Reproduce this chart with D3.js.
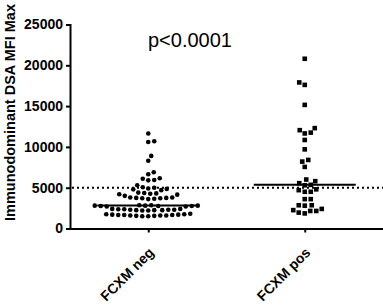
<!DOCTYPE html>
<html>
<head>
<meta charset="utf-8">
<script src="https://cdn.jsdelivr.net/npm/d3@7"></script>
<style>
  body { margin: 0; background: #fff; }
  svg { font-family: Arial, "Liberation Sans", sans-serif; }
</style>
</head>
<body>
<script>
var categories = ["FCXM neg", "FCXM pos"];

var negValues = [
  11650, 10700, 10600, 8900, 8300, 6900, 6650,
  6150, 5950, 5900, 6100,
  5300, 5000, 4900, 4800, 4700, 4850, 5050,
  4400, 4250, 4300, 4200, 4150, 4350, 4000,
  3800, 3750, 3700, 3650, 3700, 3800, 3600, 3750,
  2850, 2800, 2750, 2700, 2800, 2850, 2750, 2700, 2800, 2750,
  2400, 2350, 2300, 2250, 2200, 2300, 2350, 2250, 2200, 2300, 2400, 2250,
  1800, 1750, 1700, 1650, 1600, 1550, 1500, 1600, 1650, 1700, 1550, 1600, 1750, 1500, 1650
];

var posValues = [
  20800, 17900, 17600, 15150, 12300, 12050, 11750, 11650, 10850, 9700,
  8400, 8200, 7550, 6000, 5800, 5550, 5350, 5300, 4800, 4500, 4500, 4700,
  3600, 3600, 2850, 2800, 2850, 2250, 2150, 1850, 1950, 2150, 2400
];

var yTicks = [0, 5000, 10000, 15000, 20000, 25000];
var threshold = 5000;
var pLabel = "p<0.0001";
var yLabel = "Immunodominant DSA MFI Max";

var width = 383, height = 306;
var plotLeft = 70, plotTop = 24.5, plotBottom = 228.5;

var svg = d3.select("body").append("svg")
    .attr("width", width)
    .attr("height", height);

var x = d3.scalePoint().domain(categories).range([plotLeft, width]).padding(0.5);
var y = d3.scaleLinear().domain([0, 25000]).range([plotBottom, plotTop]);

// simple beeswarm: push each point sideways until it no longer overlaps
function swarm(values, cx, d) {
  var placed = [];
  values.slice().sort(d3.ascending).forEach(function (v, i) {
    var py = y(v), k = 0, px = cx;
    while (k < 200) {
      var cands = i % 2 ? [cx - k, cx + k] : [cx + k, cx - k];
      var ok = cands.filter(function (c) {
        return placed.every(function (p) {
          return (p.x - c) * (p.x - c) + (p.y - py) * (p.y - py) >= d * d;
        });
      });
      if (ok.length) { px = ok[0]; break; }
      k += 0.5;
    }
    placed.push({ x: px, y: py, v: v });
  });
  return placed;
}

var negPts = swarm(negValues, x("FCXM neg"), 5.6);
var posPts = swarm(posValues, x("FCXM pos"), 5.8);

// threshold line
svg.append("line")
    .attr("x1", plotLeft + 2).attr("x2", width)
    .attr("y1", y(threshold)).attr("y2", y(threshold))
    .attr("stroke", "#000")
    .attr("stroke-width", 2)
    .attr("stroke-dasharray", "2,3");

svg.append("g").selectAll("circle")
    .data(negPts)
  .enter().append("circle")
    .attr("cx", function (d) { return d.x; })
    .attr("cy", function (d) { return d.y; })
    .attr("r", 2.3)
    .attr("fill", "#000");

svg.append("g").selectAll("rect")
    .data(posPts)
  .enter().append("rect")
    .attr("x", function (d) { return d.x - 2.3; })
    .attr("y", function (d) { return d.y - 2.3; })
    .attr("width", 4.6)
    .attr("height", 4.6)
    .attr("fill", "#000");

// medians
[[categories[0], negValues], [categories[1], posValues]].forEach(function (g) {
  var m = d3.median(g[1]);
  svg.append("line")
      .attr("x1", x(g[0]) - 51).attr("x2", x(g[0]) + 51)
      .attr("y1", y(m)).attr("y2", y(m))
      .attr("stroke", "#000")
      .attr("stroke-width", 2);
});

var yAxis = svg.append("g")
    .attr("transform", "translate(" + plotLeft + ",0)")
    .call(d3.axisLeft(y).tickValues(yTicks).tickSize(4).tickSizeOuter(0).tickPadding(3).tickFormat(d3.format("d")));

var xAxis = svg.append("g")
    .attr("transform", "translate(0," + plotBottom + ")")
    .call(d3.axisBottom(x).tickSize(4).tickSizeOuter(0));

svg.selectAll(".domain, .tick line").attr("stroke-width", 2).attr("stroke", "#000");

yAxis.selectAll("text")
    .attr("font-size", 14)
    .attr("font-weight", "bold")
    .attr("fill", "#000")
    .attr("font-family", null);

// category labels, slanted 45 degrees, ending just under each tick
xAxis.selectAll(".tick text").remove();
xAxis.selectAll(".tick").append("text")
    .attr("font-size", 14)
    .attr("font-weight", "bold")
    .attr("fill", "#000")
    .attr("text-anchor", "end")
    .attr("transform", "translate(6,25) rotate(-45)")
    .text(function (d) { return d; });

svg.selectAll(".domain").attr("stroke-linecap", "square");

svg.append("text")
    .attr("transform", "translate(15," + ((plotTop + plotBottom) / 2 - 14) + ") rotate(-90)")
    .attr("text-anchor", "middle")
    .attr("font-size", 14.5)
    .attr("font-weight", "bold")
    .text(yLabel);

svg.append("text")
    .attr("x", 190).attr("y", 47)
    .attr("text-anchor", "middle")
    .attr("font-size", 20)
    .text(pLabel);
</script>
</body>
</html>
